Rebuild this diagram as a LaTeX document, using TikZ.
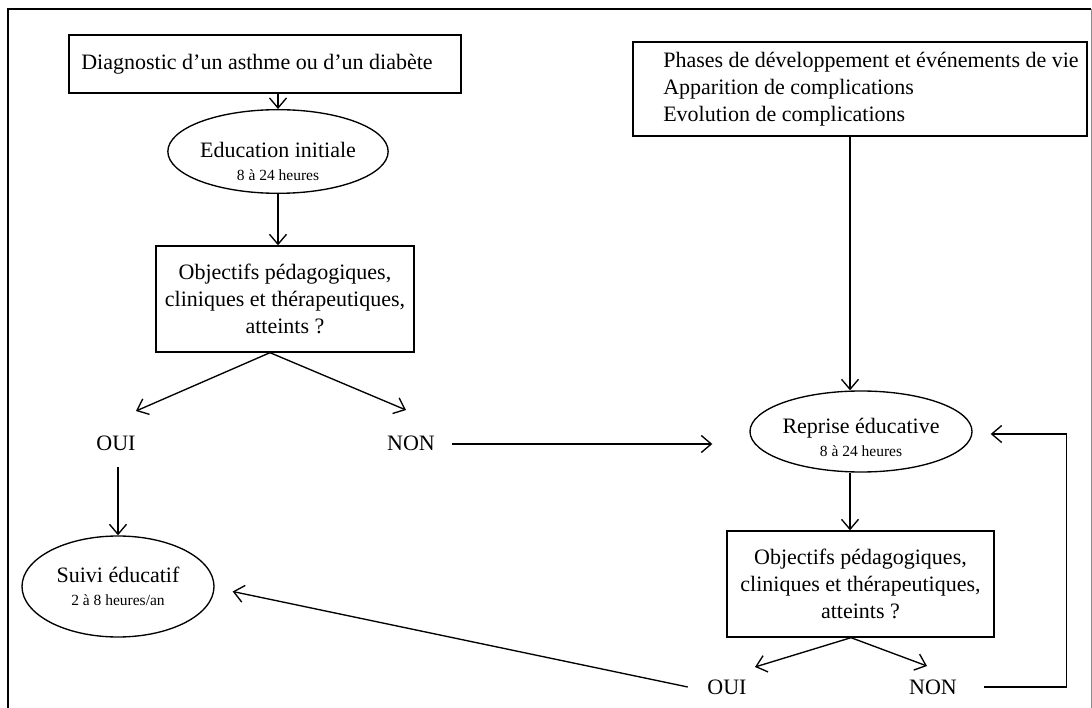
\documentclass[tikz,border=0pt]{standalone}
\usepackage{fontspec}
\setmainfont{Liberation Serif}
\usetikzlibrary{arrows.meta,shapes.geometric,calc}
\begin{document}
\begin{tikzpicture}[x=1pt,y=-1pt,
  line width=1.35pt,
  arr/.style={-{Straight Barb[length=10pt,width=17pt,line width=1.35pt]}},
  big/.style={font=\fontsize{22}{27}\selectfont},
  boxn/.style={draw, rectangle, inner sep=0pt, align=center, big},
  ell/.style={draw, ellipse, inner sep=0pt, align=center, font=\fontsize{22}{23}\selectfont},
  lab/.style={big, inner sep=0pt}
]
\newcommand{\smalltxt}[1]{{\fontsize{15.5}{15.5}\selectfont #1}}
\useasboundingbox (0,0) rectangle (1092,708);
\draw[line width=1.1pt] (8,708) -- (8,9) -- (1091,9);
\draw[line width=0.8pt, black!45] (1091,9) -- (1091,708);

% left column
\node[boxn, minimum width=392, minimum height=58] (diag) at (265,64) {Diagnostic d’un asthme ou d’un diabète\hspace*{16pt}};
\node[ell, minimum width=185, minimum height=63] (edu) at (278,151.5) {\rule{0pt}{36pt}Education initiale\\\smalltxt{8 à 24 heures}};
\node[boxn, minimum width=258, minimum height=106] (obj1) at (285,299) {Objectifs pédagogiques,\\cliniques et thérapeutiques,\\atteints ?};
\node[lab] (oui1) at (116,443) {OUI};
\node[lab] (non1) at (411,443) {NON};
\node[ell, minimum width=192, minimum height=101] (suivi) at (118,586.5) {Suivi éducatif\\\smalltxt{2 à 8 heures/an}};

% right column
\node[draw, rectangle, inner sep=0pt, minimum width=454, minimum height=94, big] (phase) at (860,89)
  {\begin{tabular}{@{\hspace{22pt}}l@{}}Phases de développement et événements de vie\\Apparition de complications\\Evolution de complications\end{tabular}};
\node[ell, minimum width=192, minimum height=81] (reprise) at (861,431.5) {\rule{0pt}{28pt}Reprise éducative\\\smalltxt{8 à 24 heures}};
\node[boxn, minimum width=267, minimum height=106] (obj2) at (860.5,584) {Objectifs pédagogiques,\\cliniques et thérapeutiques,\\atteints ?};
\node[lab] (oui2) at (727,687) {OUI};
\node[lab] (non2) at (933,687) {NON};

% fork points and free arrow ends
\coordinate (f1) at ($(obj1.south)+(-15,0)$);
\coordinate (t1) at (136,411);
\coordinate (t2) at (406,410);
\coordinate (f2) at ($(obj2.south)+(-9.5,0)$);
\coordinate (t3) at (755,667);
\coordinate (t4) at (927,666);

% connectors
\draw[arr] (diag.south -| edu.north) -- (edu.north);
\draw[arr] (edu.south) -- (edu.south |- obj1.north);
\draw[arr] (f1) -- (t1);
\draw[arr] (f1) -- (t2);
\draw[arr] ($(suivi.north |- oui1.south)+(0,16)$) -- (suivi.north);
\draw[arr] ($(non1.east)+(16,1)$) -- ($(reprise.west |- non1.east)+(-37,1)$);
\draw[arr] ($(phase.south)+(-10,0)$) -- ($(reprise.north)+(-11,0)$);
\draw[arr] ($(reprise.south)+(-11,0)$) -- ($(obj2.north)+(-10.5,0)$);
\draw[arr] (f2) -- (t3);
\draw[arr] (f2) -- (t4);
\draw[arr] ($(oui2.west)+(-19,0)$) -- ($(suivi.east)+(18,5)$);
\draw[arr] ($(non2.east)+(26,0)$) -| ($(reprise.east)+(94,2.5)$) -- ($(reprise.east)+(18,2.5)$);
\end{tikzpicture}
\end{document}
